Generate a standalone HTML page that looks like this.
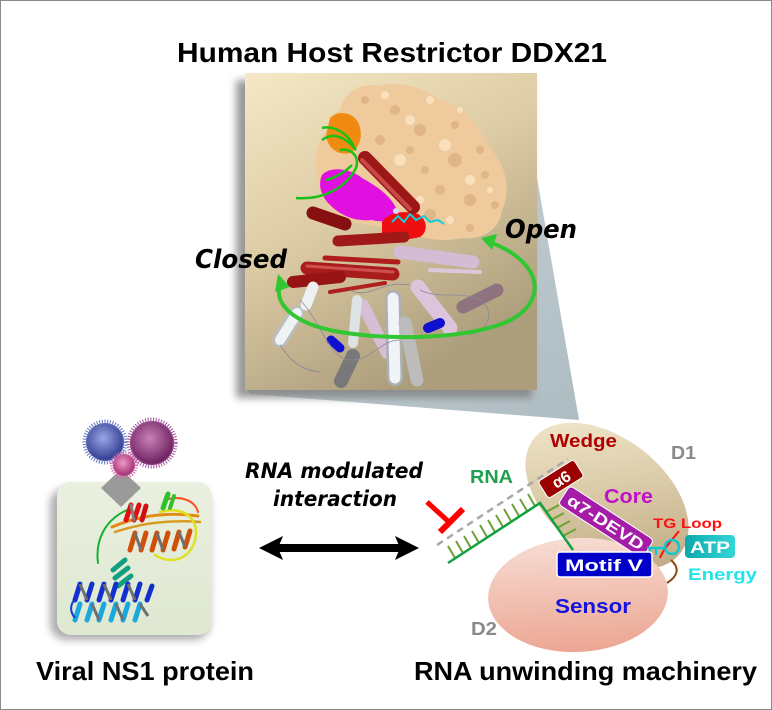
<!DOCTYPE html>
<html><head><meta charset="utf-8"><style>
html,body{margin:0;padding:0;background:#fff;}
svg{display:block;}
text{font-family:"Liberation Sans",sans-serif;font-weight:bold;}
</style></head><body>
<svg width="772" height="710" viewBox="0 0 772 710" xmlns="http://www.w3.org/2000/svg">
<defs>
<linearGradient id="boxg" x1="0" y1="0" x2="0.5" y2="1">
<stop offset="0" stop-color="#f5e8c6"/><stop offset="0.5" stop-color="#dccba4"/><stop offset="1" stop-color="#ac9d7c"/></linearGradient>
<linearGradient id="beam" x1="0" y1="0" x2="1" y2="1">
<stop offset="0" stop-color="#c9d3d7"/><stop offset="1" stop-color="#aebdc3"/></linearGradient>
<linearGradient id="d1g" x1="0" y1="0" x2="1" y2="0.6">
<stop offset="0" stop-color="#f7edd2"/><stop offset="1" stop-color="#c2ae86"/></linearGradient>
<linearGradient id="d2g" x1="0" y1="0" x2="0" y2="1">
<stop offset="0" stop-color="#f7dcd3"/><stop offset="1" stop-color="#eca692"/></linearGradient>
<linearGradient id="atpg" x1="0" y1="0" x2="1" y2="0">
<stop offset="0" stop-color="#0ea8ac"/><stop offset="1" stop-color="#34d6d8"/></linearGradient>
<linearGradient id="ns1g" x1="0" y1="0" x2="0" y2="1">
<stop offset="0" stop-color="#e9f0df"/><stop offset="1" stop-color="#dfe8d2"/></linearGradient>
<radialGradient id="vb" cx="0.45" cy="0.4" r="0.6"><stop offset="0" stop-color="#9aa6e6"/><stop offset="1" stop-color="#2c3a8e"/></radialGradient>
<radialGradient id="vp" cx="0.45" cy="0.4" r="0.6"><stop offset="0" stop-color="#c882b8"/><stop offset="1" stop-color="#6a1c5c"/></radialGradient>
<radialGradient id="vk" cx="0.45" cy="0.4" r="0.6"><stop offset="0" stop-color="#f09ac8"/><stop offset="1" stop-color="#a02c70"/></radialGradient>
<filter id="sh" x="-20%" y="-20%" width="140%" height="140%"><feGaussianBlur stdDeviation="4"/></filter>
</defs>
<rect x="0.5" y="0.5" width="771" height="709" fill="#fff" stroke="#8a8a8a" stroke-width="1"/>

<!-- Title -->
<text x="177" y="62" font-size="28" fill="#000" textLength="430" lengthAdjust="spacingAndGlyphs">Human Host Restrictor DDX21</text>

<!-- beam -->
<polygon points="536,172 579,420 250,394 246,388" fill="url(#beam)"/>
<!-- box shadow -->
<rect x="236" y="80" width="296" height="318" fill="#808080" opacity="0.8" filter="url(#sh)"/>
<rect x="245" y="73" width="292" height="317" fill="url(#boxg)"/>

<!-- protein surface -->
<path d="M340 110 C345 92 360 82 380 86 C400 80 425 88 440 100 C465 105 480 128 490 148 C505 163 512 190 502 210 C500 230 482 240 462 238 C442 243 420 238 405 232 C390 228 370 226 355 222 C335 220 318 200 318 180 C312 160 318 140 328 128 C330 118 335 112 340 110 Z" fill="#efca9c"/>
<g fill="#cf9f6c" opacity="0.45">
<circle cx="420" cy="130" r="6"/><circle cx="455" cy="160" r="7"/><circle cx="395" cy="110" r="5"/><circle cx="470" cy="200" r="6"/><circle cx="440" cy="190" r="5"/><circle cx="380" cy="140" r="5"/><circle cx="430" cy="215" r="6"/><circle cx="485" cy="175" r="4"/>
<circle cx="365" cy="100" r="4"/><circle cx="410" cy="150" r="4"/><circle cx="480" cy="150" r="4"/><circle cx="455" cy="125" r="4"/><circle cx="425" cy="170" r="4"/><circle cx="495" cy="205" r="4"/><circle cx="470" cy="228" r="4"/><circle cx="345" cy="125" r="3"/>
</g>
<g fill="#fde6c6" opacity="0.8">
<circle cx="410" cy="120" r="5"/><circle cx="445" cy="145" r="6"/><circle cx="470" cy="180" r="5"/><circle cx="400" cy="160" r="6"/><circle cx="450" cy="220" r="4"/>
<circle cx="385" cy="95" r="4"/><circle cx="430" cy="100" r="4"/><circle cx="490" cy="190" r="3"/><circle cx="420" cy="200" r="4"/><circle cx="460" cy="110" r="3"/>
</g>
<path d="M330 118 C338 110 352 112 358 122 C364 135 360 148 350 153 C338 156 328 148 326 136 Z" fill="#f08a10"/>
<path d="M322 175 C330 166 350 168 362 178 C375 185 390 195 396 208 C398 218 385 224 372 220 C355 222 340 215 330 205 C320 195 318 184 322 175 Z" fill="#e010e0"/>
<path d="M382 222 C388 212 405 210 418 214 C428 220 428 232 420 237 C405 241 388 240 382 233 Z" fill="#ee1010"/>
<!-- RNA strands -->
<g fill="none" stroke="#18c018" stroke-width="2.5">
<path d="M296 198 C320 200 345 190 356 168 C360 155 350 148 340 150"/>
<path d="M322 128 C335 125 350 135 354 148"/>
<path d="M322 140 C335 130 348 140 356 150"/>
<path d="M326 180 C335 178 345 172 352 165"/>
</g>
<path d="M392 222 l6 -6 l6 6 l6 -8 l6 6 l8 -4 l6 6 l8 -2 l6 4" fill="none" stroke="#10d0d8" stroke-width="2"/>
<circle cx="396" cy="211" r="3" fill="#d8d8f0"/>

<!-- cylinders -->
<g stroke-linecap="round" fill="none">
<line x1="365" y1="158" x2="413" y2="207" stroke="#9c1818" stroke-width="14"/>
<line x1="365" y1="158" x2="413" y2="207" stroke="#c84848" stroke-width="4" transform="translate(-3,2)"/>
<line x1="313" y1="213" x2="345" y2="224" stroke="#861010" stroke-width="13"/>
<line x1="338" y1="241" x2="404" y2="237" stroke="#a01818" stroke-width="11"/>
<line x1="325" y1="258" x2="398" y2="262" stroke="#b01c1c" stroke-width="5"/>
<line x1="307" y1="268" x2="393" y2="274" stroke="#a81c1c" stroke-width="13"/>
<line x1="307" y1="266" x2="393" y2="272" stroke="#d05050" stroke-width="3"/>
<line x1="293" y1="282" x2="340" y2="277" stroke="#961414" stroke-width="12"/>
<line x1="330" y1="292" x2="385" y2="283" stroke="#b02020" stroke-width="4"/>
<line x1="400" y1="252" x2="473" y2="262" stroke="#d4bcd4" stroke-width="13"/>
<line x1="430" y1="270" x2="480" y2="272" stroke="#dcc8dc" stroke-width="4"/>
<line x1="418" y1="287" x2="450" y2="328" stroke="#dcc4dc" stroke-width="15"/>
<line x1="463" y1="307" x2="497" y2="290" stroke="#8e727e" stroke-width="13"/>
<line x1="363" y1="305" x2="387" y2="353" stroke="#d6bed6" stroke-width="12"/>
<line x1="393" y1="298" x2="395" y2="378" stroke="#aab0b4" stroke-width="16"/>
<line x1="393" y1="298" x2="395" y2="378" stroke="#f0f4f6" stroke-width="11"/>
<line x1="405" y1="323" x2="417" y2="380" stroke="#bcbcbc" stroke-width="13"/>
<line x1="297" y1="313" x2="280" y2="340" stroke="#b8bec2" stroke-width="15"/>
<line x1="297" y1="313" x2="280" y2="340" stroke="#f0f3f4" stroke-width="10"/>
<line x1="313" y1="287" x2="306" y2="305" stroke="#eef1f2" stroke-width="11"/>
<line x1="357" y1="300" x2="353" y2="343" stroke="#dde2e4" stroke-width="10"/>
<line x1="353" y1="356" x2="341" y2="381" stroke="#787878" stroke-width="14"/>
<line x1="331" y1="340" x2="340" y2="348" stroke="#1010d0" stroke-width="9"/>
<line x1="428" y1="328" x2="440" y2="323" stroke="#1010d0" stroke-width="10"/>
</g>
<g fill="none" stroke="#8a8a9a" stroke-width="0.8">
<path d="M300 300 C320 320 330 360 350 360 C370 362 380 340 400 340"/>
<path d="M280 345 C290 360 300 370 320 372"/>
<path d="M420 290 C440 300 460 290 480 300 C495 310 490 330 470 335"/>
<path d="M350 290 C370 300 380 280 410 285"/>
</g>

<!-- green arc -->
<path d="M489 242 C535 258 548 292 520 314 C490 338 400 342 340 332 C292 324 272 302 281 283" fill="none" stroke="#33c633" stroke-width="4"/>
<polygon points="481,238 497,234 492,250" fill="#33c633"/>
<polygon points="278,274 275,292 290,287" fill="#33c633"/>

<text x="195" y="268" font-size="26" font-style="italic" fill="#000" textLength="92" lengthAdjust="spacingAndGlyphs" style="font-family:'DejaVu Sans',sans-serif">Closed</text>
<text x="505" y="238" font-size="26" font-style="italic" fill="#000" textLength="72" lengthAdjust="spacingAndGlyphs" style="font-family:'DejaVu Sans',sans-serif">Open</text>

<!-- left NS1 panel -->
<rect x="50" y="488" width="160" height="152" rx="16" fill="#8c8c8c" opacity="0.7" filter="url(#sh)"/>
<rect x="57" y="482" width="155" height="153" rx="14" fill="url(#ns1g)"/>
<polygon points="121,469 141,488 121,507 101,488" fill="#9a9a9a"/>
<circle cx="105" cy="442" r="19" fill="url(#vb)"/>
<circle cx="105" cy="442" r="20" fill="none" stroke="#6676c4" stroke-width="5" stroke-dasharray="1 1.6"/>
<circle cx="152" cy="443" r="22" fill="url(#vp)"/>
<circle cx="152" cy="443" r="23" fill="none" stroke="#a456a0" stroke-width="5" stroke-dasharray="1 1.6"/>
<circle cx="124" cy="465" r="11" fill="url(#vk)"/>
<circle cx="124" cy="465" r="12" fill="none" stroke="#d86aa8" stroke-width="4" stroke-dasharray="1 1.4"/>
<!-- ribbons -->
<g fill="none" stroke-linecap="round">
<path d="M112 527 C140 515 170 512 198 516" stroke="#e08a10" stroke-width="3"/>
<path d="M115 532 C145 522 175 520 200 522" stroke="#d89a20" stroke-width="2.5"/>
<path d="M160 512 C185 505 200 520 195 540 C190 560 170 565 155 555" stroke="#e0e020" stroke-width="2.5"/>
<path d="M127 510 C105 520 95 540 98 563" stroke="#18b030" stroke-width="2"/>
<path d="M165 500 C180 495 195 500 198 512" stroke="#ff5020" stroke-width="2"/>
</g>
<g stroke-linecap="round">
<line x1="126" y1="520" x2="131" y2="505" stroke="#e01010" stroke-width="5"/>
<line x1="134" y1="520" x2="139" y2="505" stroke="#e01010" stroke-width="5"/>
<line x1="131" y1="505" x2="134" y2="520" stroke="#808080" stroke-width="3"/>
<line x1="142" y1="520" x2="146" y2="506" stroke="#d01010" stroke-width="5"/>
<line x1="163" y1="508" x2="168" y2="494" stroke="#30c030" stroke-width="5"/>
<line x1="170" y1="508" x2="174" y2="496" stroke="#30c030" stroke-width="4"/>
</g>
<g stroke="#d0500a" stroke-width="5" stroke-linecap="round">
<line x1="130" y1="550" x2="135" y2="533"/><line x1="141" y1="550" x2="146" y2="533"/><line x1="152" y1="550" x2="157" y2="533"/><line x1="163" y1="550" x2="168" y2="533"/><line x1="174" y1="549" x2="179" y2="532"/><line x1="185" y1="547" x2="190" y2="531"/>
</g>
<g stroke="#707070" stroke-width="3"><line x1="135" y1="533" x2="141" y2="550"/><line x1="157" y1="533" x2="163" y2="550"/><line x1="179" y1="532" x2="185" y2="547"/></g>
<g stroke="#10a080" stroke-width="5" stroke-linecap="round">
<line x1="113" y1="570" x2="125" y2="560"/><line x1="115" y1="578" x2="128" y2="568"/><line x1="118" y1="586" x2="131" y2="576"/>
</g>
<g stroke="#1030d0" stroke-width="5" stroke-linecap="round">
<line x1="75" y1="600" x2="80" y2="584"/><line x1="87" y1="600" x2="92" y2="584"/><line x1="99" y1="600" x2="104" y2="584"/><line x1="111" y1="600" x2="116" y2="584"/><line x1="123" y1="600" x2="128" y2="584"/><line x1="135" y1="600" x2="140" y2="584"/><line x1="147" y1="600" x2="152" y2="586"/>
</g>
<g stroke="#707070" stroke-width="3"><line x1="80" y1="584" x2="87" y2="600"/><line x1="104" y1="584" x2="111" y2="600"/><line x1="128" y1="584" x2="135" y2="600"/></g>
<g stroke="#18a8e0" stroke-width="5" stroke-linecap="round">
<line x1="75" y1="620" x2="80" y2="604"/><line x1="87" y1="620" x2="92" y2="604"/><line x1="99" y1="620" x2="104" y2="604"/><line x1="111" y1="620" x2="116" y2="604"/><line x1="123" y1="620" x2="128" y2="604"/><line x1="135" y1="620" x2="140" y2="604"/>
</g>
<g stroke="#707070" stroke-width="3"><line x1="92" y1="604" x2="99" y2="620"/><line x1="116" y1="604" x2="123" y2="620"/><line x1="140" y1="604" x2="148" y2="616"/></g>
<path d="M74 600 C70 606 70 612 75 618" fill="none" stroke="#1040d0" stroke-width="2"/>

<!-- middle text and arrow -->
<text x="245" y="478" font-size="21" font-style="italic" fill="#000" textLength="178" lengthAdjust="spacingAndGlyphs" style="font-family:'DejaVu Sans',sans-serif">RNA modulated</text>
<text x="273" y="506" font-size="21" font-style="italic" fill="#000" textLength="124" lengthAdjust="spacingAndGlyphs" style="font-family:'DejaVu Sans',sans-serif">interaction</text>
<line x1="276" y1="548" x2="402" y2="548" stroke="#000" stroke-width="8"/>
<polygon points="259,548 283,536 278,548 283,560" fill="#000"/>
<polygon points="419,548 395,536 400,548 395,560" fill="#000"/>

<!-- red inhibitor -->
<line x1="427" y1="502" x2="449" y2="522" stroke="#ff0000" stroke-width="5"/>
<line x1="440" y1="532" x2="463" y2="509" stroke="#ff0000" stroke-width="6"/>

<!-- D1 / D2 -->
<ellipse cx="607" cy="496" rx="93" ry="58" transform="rotate(38 607 496)" fill="url(#d1g)"/>
<ellipse cx="578" cy="595" rx="90" ry="57" transform="rotate(-3 578 595)" fill="url(#d2g)"/>

<!-- RNA ladder -->
<line x1="437" y1="545" x2="568" y2="459" stroke="#a8a8a8" stroke-width="2.5" stroke-dasharray="7 5"/>
<g stroke="#6fa032" stroke-width="2">
<line x1="455" y1="558" x2="448" y2="546"/><line x1="463" y1="553" x2="456" y2="541"/><line x1="471" y1="548" x2="464" y2="536"/><line x1="479" y1="543" x2="472" y2="531"/><line x1="487" y1="537" x2="480" y2="525"/><line x1="495" y1="532" x2="488" y2="520"/><line x1="503" y1="527" x2="496" y2="515"/><line x1="511" y1="521" x2="504" y2="509"/><line x1="519" y1="516" x2="512" y2="504"/><line x1="527" y1="511" x2="520" y2="499"/><line x1="535" y1="506" x2="528" y2="494"/>
<line x1="546" y1="512" x2="559" y2="505"/><line x1="551" y1="520" x2="564" y2="513"/><line x1="557" y1="528" x2="570" y2="521"/><line x1="563" y1="536" x2="576" y2="529"/>
</g>
<polyline points="448,563 540,503 573,550" fill="none" stroke="#12a040" stroke-width="2.5"/>

<!-- alpha boxes -->
<g transform="translate(561 479) rotate(-32)">
<rect x="-21" y="-10" width="42" height="20" rx="3" fill="#9c0000" stroke="#fff" stroke-width="1"/>
<text x="0" y="6" font-size="16" fill="#fff" text-anchor="middle">α6</text>
</g>
<g transform="translate(606 522) rotate(33)">
<rect x="-50" y="-11" width="100" height="22" rx="4" fill="#a41ca8" stroke="#fff" stroke-width="1"/>
<text x="0" y="6" font-size="16" fill="#fff" text-anchor="middle" textLength="88" lengthAdjust="spacingAndGlyphs">α7-DEVD</text>
</g>

<!-- TG loop -->
<path d="M679 531 C672 540 664 548 660 558" fill="none" stroke="#ff1010" stroke-width="2"/>
<circle cx="672" cy="547" r="7" fill="none" stroke="#10c8d0" stroke-width="2.5"/>
<line x1="647" y1="548" x2="666" y2="548" stroke="#10c8d0" stroke-width="2.5"/>
<line x1="650" y1="548" x2="650" y2="555" stroke="#10c8d0" stroke-width="2"/>
<line x1="656" y1="548" x2="656" y2="555" stroke="#10c8d0" stroke-width="2"/>
<path d="M671 560 C680 568 678 576 667 583" fill="none" stroke="#8a4a10" stroke-width="2"/>

<!-- Motif V -->
<rect x="557" y="552" width="95" height="25" rx="3" fill="#0000c8" stroke="#fff" stroke-width="1.5"/>
<text x="604" y="571" font-size="17" fill="#fff" text-anchor="middle" textLength="78" lengthAdjust="spacingAndGlyphs">Motif V</text>

<!-- ATP -->
<rect x="685" y="535" width="50" height="23" rx="4" fill="url(#atpg)"/>
<text x="710" y="553" font-size="17" fill="#fff" text-anchor="middle" textLength="40" lengthAdjust="spacingAndGlyphs">ATP</text>
<text x="688" y="580" font-size="17" fill="#22e4ea" textLength="69" lengthAdjust="spacingAndGlyphs">Energy</text>

<!-- labels -->
<text x="550" y="447" font-size="18" fill="#b00000" textLength="67" lengthAdjust="spacingAndGlyphs">Wedge</text>
<text x="671" y="459" font-size="18" fill="#8a8a8a" textLength="25" lengthAdjust="spacingAndGlyphs">D1</text>
<text x="470" y="483" font-size="18" fill="#1fa050" textLength="43" lengthAdjust="spacingAndGlyphs">RNA</text>
<text x="604" y="503" font-size="20" fill="#c010c8" textLength="49" lengthAdjust="spacingAndGlyphs">Core</text>
<text x="653" y="528" font-size="14" fill="#ff1010" textLength="69" lengthAdjust="spacingAndGlyphs">TG Loop</text>
<text x="555" y="613" font-size="20" fill="#1414e0" textLength="76" lengthAdjust="spacingAndGlyphs">Sensor</text>
<text x="471" y="635" font-size="18" fill="#8a8a8a" textLength="26" lengthAdjust="spacingAndGlyphs">D2</text>

<!-- bottom labels -->
<text x="36" y="680" font-size="26" fill="#000" textLength="218" lengthAdjust="spacingAndGlyphs">Viral NS1 protein</text>
<text x="414" y="680" font-size="26" fill="#000" textLength="343" lengthAdjust="spacingAndGlyphs">RNA unwinding machinery</text>
</svg>
</body></html>
